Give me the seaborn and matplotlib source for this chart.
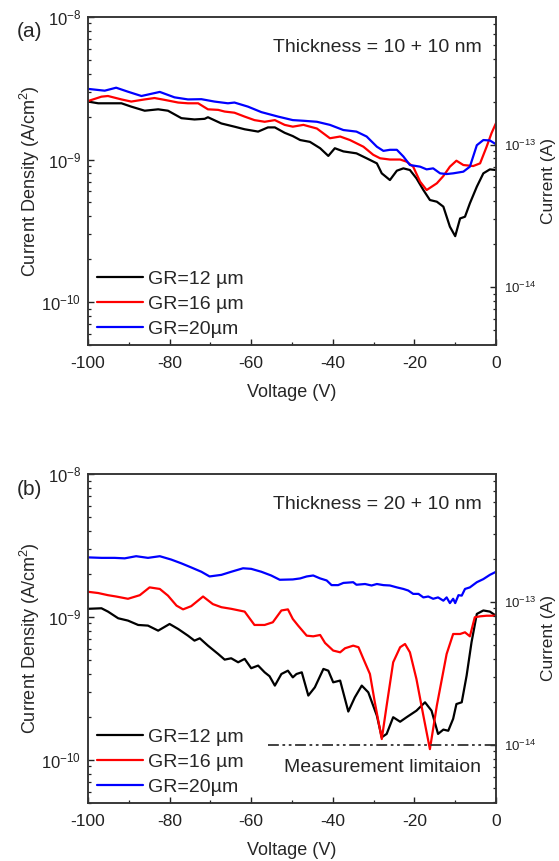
import numpy as np
import pandas as pd
import matplotlib
matplotlib.use("Agg")
import matplotlib.pyplot as plt
import seaborn as sns
from matplotlib.ticker import (LogLocator, NullFormatter, MultipleLocator,
                               FixedLocator, LogFormatterMathtext)

# ---------------- data ----------------
GR_LABELS = ["GR=12 µm", "GR=16 µm", "GR=20µm"]
COLORS = ["#000000", "#ff0000", "#0000ff"]
DEVICE_AREA = 7.85e-5          # cm^2, converts current density to current
MEAS_LIMIT_CURRENT = 1e-14      # A
MEAS_LIMIT_VSTART = -56.0

# (a) Thickness = 10 + 10 nm ; current density in units of 1e-9 A/cm^2
V_a12 = [-100, -97.5, -95.1, -91.8, -89.4, -86.1, -82.8, -80.4, -77.1, -73.9,
         -71.4, -70.6, -67.3, -64.1, -61.6, -58.3, -55.9, -54.2, -51.8, -49.8,
         -48.0, -45.6, -43.1, -41.1, -39.5, -37.4, -34.2, -31.7, -29.2, -28.0,
         -26.0, -24.3, -22.7, -21.1, -19.5, -17.8, -16.2, -14.5, -12.9, -11.3,
         -10.0, -8.8, -7.6, -6.4, -4.7, -3.1, -1.5, 0]
J_a12 = [2.55, 2.48, 2.48, 2.48, 2.35, 2.20, 2.25, 2.20, 1.95, 1.91,
         1.93, 1.98, 1.79, 1.70, 1.63, 1.57, 1.68, 1.68, 1.54, 1.46,
         1.37, 1.33, 1.20, 1.06, 1.20, 1.14, 1.105, 1.02, 0.940, 0.800,
         0.718, 0.835, 0.867, 0.844, 0.738, 0.611, 0.520, 0.506, 0.467, 0.338,
         0.290, 0.386, 0.397, 0.493, 0.645, 0.800, 0.853, 0.844]

V_a16 = [-100, -96.7, -95.1, -91.8, -89.4, -86.1, -83.7, -81.2, -77.9, -75.5,
         -73.0, -70.6, -68.1, -66.5, -64.1, -61.6, -59.2, -56.7, -54.2, -51.8,
         -49.8, -47.2, -43.9, -40.7, -38.2, -35.8, -32.5, -30.1, -28.4, -26.0,
         -23.5, -21.9, -20.3, -18.6, -17.0, -14.5, -12.9, -11.3, -9.7, -8.0,
         -5.6, -3.9, -2.3, -1.1, 0]
J_a16 = [2.57, 2.76, 2.79, 2.64, 2.55, 2.64, 2.70, 2.62, 2.51, 2.48,
         2.48, 2.25, 2.23, 2.17, 2.13, 2.00, 1.89, 1.84, 1.89, 1.75,
         1.70, 1.75, 1.65, 1.41, 1.45, 1.37, 1.23, 1.08, 1.02, 1.00,
         1.00, 0.966, 0.891, 0.699, 0.611, 0.681, 0.766, 0.891, 0.981, 0.915,
         0.900, 0.940, 1.23, 1.53, 1.80]

V_a20 = [-100, -95.9, -93.1, -90.2, -86.9, -82.4, -78.8, -75.5, -72.2, -69.0,
         -65.7, -64.1, -60.8, -57.5, -53.4, -49.8, -47.2, -43.9, -40.7, -37.4,
         -34.2, -31.7, -29.2, -27.6, -26.0, -24.3, -22.7, -21.1, -18.6, -17.0,
         -15.4, -13.7, -12.1, -10.5, -8.0, -6.4, -4.7, -3.1, -1.5, 0]
J_a20 = [3.13, 3.04, 3.19, 2.99, 2.79, 2.98, 2.73, 2.64, 2.65, 2.55,
         2.48, 2.51, 2.35, 2.15, 2.00, 1.89, 1.87, 1.84, 1.75, 1.61,
         1.57, 1.45, 1.23, 1.15, 1.17, 1.17, 1.05, 0.915, 0.891, 0.853,
         0.867, 0.800, 0.791, 0.800, 0.822, 0.891, 1.26, 1.37, 1.36, 1.28]

# (b) Thickness = 20 + 10 nm
V_b12 = [-100, -96.7, -95.1, -92.6, -90.2, -87.7, -85.3, -82.8, -80.0, -77.9,
         -75.5, -73.9, -72.6, -70.6, -68.1, -66.5, -64.9, -63.2, -61.6, -60.0,
         -58.3, -56.7, -55.5, -54.2, -52.6, -51.0, -49.8, -48.9, -47.6, -46.0,
         -44.4, -42.3, -41.1, -39.9, -38.2, -36.2, -34.6, -32.9, -31.3, -29.2,
         -28.0, -26.8, -25.2, -23.5, -21.9, -19.5, -17.4, -15.8, -14.2, -12.9,
         -11.7, -10.5, -9.7, -8.4, -7.2, -6.0, -4.7, -3.1, -1.5, 0]
J_b12 = [1.14, 1.15, 1.09, 0.979, 0.943, 0.879, 0.870, 0.802, 0.893, 0.824,
         0.740, 0.683, 0.709, 0.630, 0.551, 0.503, 0.514, 0.482, 0.509, 0.438,
         0.457, 0.410, 0.385, 0.331, 0.399, 0.421, 0.378, 0.399, 0.410, 0.282,
         0.322, 0.433, 0.421, 0.349, 0.359, 0.218, 0.274, 0.331, 0.297, 0.204,
         0.144, 0.152, 0.199, 0.185, 0.199, 0.221, 0.253, 0.221, 0.152, 0.163,
         0.160, 0.194, 0.246, 0.253, 0.389, 0.665, 1.05, 1.11, 1.09, 1.02]

V_b16 = [-100, -97.5, -95.1, -93.1, -90.2, -87.3, -84.9, -82.4, -80.4, -78.3,
         -76.7, -74.7, -71.8, -69.4, -67.3, -64.9, -61.6, -59.2, -56.7, -54.7,
         -52.6, -51.0, -49.8, -48.5, -46.4, -44.8, -43.1, -41.9, -39.9, -38.2,
         -37.0, -35.0, -33.7, -32.5, -30.9, -29.7, -28.0, -26.8, -25.2, -23.5,
         -22.3, -21.1, -19.5, -17.8, -16.2, -14.5, -12.1, -10.5, -8.8, -7.6,
         -6.4, -5.2, -3.9, -2.3, 0]
J_b16 = [1.50, 1.47, 1.42, 1.39, 1.34, 1.42, 1.61, 1.57, 1.41, 1.20,
         1.13, 1.19, 1.39, 1.23, 1.17, 1.14, 1.09, 0.879, 0.879, 0.918,
         1.11, 1.13, 0.968, 0.870, 0.740, 0.732, 0.748, 0.658, 0.582, 0.566,
         0.604, 0.630, 0.614, 0.509, 0.399, 0.253, 0.140, 0.240, 0.482, 0.614,
         0.647, 0.566, 0.368, 0.204, 0.119, 0.240, 0.551, 0.760, 0.760, 0.781,
         0.732, 0.995, 1.01, 1.02, 1.02]

V_b20 = [-100, -96.7, -93.5, -91.0, -88.2, -85.3, -82.4, -79.6, -77.1, -74.7,
         -72.2, -70.2, -67.3, -64.9, -62.0, -60.0, -57.5, -55.1, -53.0, -49.8,
         -48.0, -46.4, -44.8, -43.1, -41.5, -40.3, -38.7, -37.4, -35.0, -34.2,
         -32.1, -30.5, -29.2, -27.6, -26.0, -24.3, -22.7, -21.5, -20.3, -19.0,
         -17.8, -16.6, -15.4, -14.2, -12.9, -12.1, -11.3, -10.5, -10.0, -9.2,
         -8.4, -7.6, -6.4, -4.7, -3.1, -1.5, 0]
J_b20 = [2.61, 2.59, 2.59, 2.57, 2.66, 2.59, 2.66, 2.52, 2.37, 2.22,
         2.07, 1.92, 1.97, 2.07, 2.19, 2.17, 2.07, 1.95, 1.82, 1.83,
         1.86, 1.92, 1.95, 1.86, 1.80, 1.67, 1.67, 1.73, 1.75, 1.68,
         1.70, 1.66, 1.70, 1.67, 1.66, 1.61, 1.57, 1.53, 1.45, 1.45,
         1.37, 1.39, 1.34, 1.37, 1.30, 1.37, 1.25, 1.34, 1.25, 1.42,
         1.41, 1.57, 1.61, 1.75, 1.84, 1.97, 2.07]

X_TICKS = [-100, -80, -60, -40, -20, 0]
J_TICKS = [1e-10, 1e-9, 1e-8]
I_TICKS = [1e-14, 1e-13]
Y_LIM = (5e-11, 1e-8)


def to_frame(vs, js):
    rows = []
    for label, v, j in zip(GR_LABELS, vs, js):
        for vi, ji in zip(v, j):
            rows.append({"V": vi, "J": ji * 1e-9, "GR": label})
    return pd.DataFrame(rows)


df_a = to_frame([V_a12, V_a16, V_a20], [J_a12, J_a16, J_a20])
df_b = to_frame([V_b12, V_b16, V_b20], [J_b12, J_b16, J_b20])

# ---------------- style ----------------
sns.set_theme(style="ticks")
plt.rcParams["font.family"] = ["Liberation Sans", "DejaVu Sans"]
plt.rcParams["mathtext.default"] = "regular"
plt.rcParams["axes.unicode_minus"] = False
plt.rcParams["axes.linewidth"] = 1.1
plt.rcParams["axes.edgecolor"] = "#333333"

fig = plt.figure(figsize=(5.59, 8.61), dpi=100)
ax_a = fig.add_axes([0.1574, 0.5993, 0.7299, 0.3810])
ax_b = fig.add_axes([0.1574, 0.0674, 0.7299, 0.3821])


def style_panel(ax, df, thickness):
    sns.lineplot(data=df, x="V", y="J", hue="GR", palette=COLORS,
                 hue_order=GR_LABELS, estimator=None, sort=False,
                 linewidth=1.6, ax=ax)
    ax.set_yscale("log")
    ax.set_xlim(-100, 0)
    ax.set_ylim(*Y_LIM)
    ax.set_xticks(X_TICKS)
    ax.xaxis.set_minor_locator(MultipleLocator(10))
    ax.yaxis.set_major_locator(FixedLocator(J_TICKS))
    ax.yaxis.set_major_formatter(LogFormatterMathtext())
    ax.yaxis.set_minor_locator(LogLocator(base=10, subs=np.arange(2, 10), numticks=20))
    ax.yaxis.set_minor_formatter(NullFormatter())
    ax.tick_params(axis="both", which="major", direction="in", length=4,
                   width=1.0, colors="#222222", top=False, right=False)
    ax.tick_params(axis="x", which="major", labelsize=12.5, pad=8)
    ax.tick_params(axis="y", which="major", labelsize=12, pad=5)
    ax.tick_params(axis="both", which="minor", direction="in", length=2.2,
                   width=0.9, top=False, right=False, colors="#222222")
    ax.set_xlabel("Voltage (V)", fontsize=13, labelpad=9)
    ax.set_ylabel("Current Density (A/cm$^2$)", fontsize=13, labelpad=-1)
    ax.text(0.965, 0.908, thickness, transform=ax.transAxes, ha="right",
            va="center", fontsize=14)
    handles, labels = ax.get_legend_handles_labels()
    ax.legend(handles, labels, loc="lower left", bbox_to_anchor=(0.022, 0.022),
              frameon=False, fontsize=14, handlelength=2.37, handletextpad=0.26,
              labelspacing=0.37, borderpad=0, borderaxespad=0)
    for line in ax.get_legend().get_lines():
        line.set_linewidth(1.6)

    ax2 = ax.twinx()
    ax2.set_yscale("log")
    ax2.set_ylim(Y_LIM[0] * DEVICE_AREA, Y_LIM[1] * DEVICE_AREA)
    ax2.yaxis.set_major_locator(FixedLocator(I_TICKS))
    ax2.yaxis.set_major_formatter(LogFormatterMathtext())
    ax2.yaxis.set_minor_locator(LogLocator(base=10, subs=np.arange(2, 10), numticks=20))
    ax2.yaxis.set_minor_formatter(NullFormatter())
    ax2.tick_params(axis="y", which="major", direction="in", length=4,
                    width=1.0, labelsize=9.5, pad=6, colors="#222222")
    ax2.tick_params(axis="y", which="minor", direction="in", length=2.2,
                    width=0.9, colors="#222222")
    ax2.set_ylabel("Current (A)", fontsize=12.5, labelpad=3)
    return ax2


ax2_a = style_panel(ax_a, df_a, "Thickness = 10 + 10 nm")
ax2_b = style_panel(ax_b, df_b, "Thickness = 20 + 10 nm")

# measurement floor of the setup, shown in the second panel
ax2_b.plot([MEAS_LIMIT_VSTART, 0], [MEAS_LIMIT_CURRENT, MEAS_LIMIT_CURRENT],
           color="#333333", linewidth=1.3, linestyle=(0, (6, 2, 1.5, 2, 1.5, 2)))
ax2_b.text(-27.7, MEAS_LIMIT_CURRENT * 0.70, "Measurement limitaion",
           ha="center", va="center", fontsize=14)

fig.text(0.030, 0.963, "(a)", fontsize=15, ha="left", va="center")
fig.text(0.030, 0.431, "(b)", fontsize=15, ha="left", va="center")

fig.savefig("out.png", dpi=100)
